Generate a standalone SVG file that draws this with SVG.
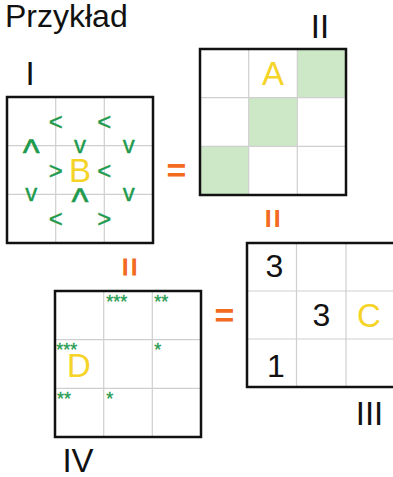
<svg xmlns="http://www.w3.org/2000/svg" width="393" height="477" viewBox="0 0 393 477">
<style>
  text { font-family: "Liberation Sans", Arial, sans-serif; }
  .outer { fill: none; stroke: #111; stroke-width: 2.5; }
  .inner { stroke: #cfcfcf; stroke-width: 1.2; fill: none; }
  .fillg { fill: #cde8c6; }
  .big { font-size: 33px; fill: #f5d327; text-anchor: middle; }
  .num { font-size: 32px; fill: #111; text-anchor: middle; }
  .lab { font-size: 33px; fill: #111; text-anchor: middle; }
  .ar { font-size: 24px; fill: #1e9a4c; text-anchor: middle; stroke: #1e9a4c; stroke-width: 0.4; }
  .car { font-size: 36px; fill: #1e9a4c; text-anchor: middle; stroke: #1e9a4c; stroke-width: 0.6; }
  .st { font-size: 18px; fill: #1e9a4c; stroke: #1e9a4c; stroke-width: 0.3; }
  .eq { font-size: 34px; font-weight: bold; fill: #f26b21; text-anchor: middle; }
</style>
<rect width="393" height="477" fill="#fff"/>

<g id="title">
  <text x="5" y="27" style="font-size:32px" fill="#111">Przykład</text>
</g>

<g id="grid-I">
  <path class="inner" d="M55.7 97V243M104.3 97V243M7 145.7H153M7 194.3H153"/>
  <rect class="outer" x="7" y="97" width="146" height="146"/>
  <text class="big" x="80" y="182">B</text>
  <text class="ar" x="55.7" y="130">&lt;</text>
  <text class="ar" x="104.3" y="130">&lt;</text>
  <text class="car" x="31.3" y="165">^</text>
  <text class="ar" x="80" y="152.5">v</text>
  <text class="ar" x="128.7" y="152.5">v</text>
  <text class="ar" x="55.7" y="178.5">&gt;</text>
  <text class="ar" x="104.3" y="178.5">&lt;</text>
  <text class="ar" x="31.3" y="201">v</text>
  <text class="car" x="80" y="213.5">^</text>
  <text class="ar" x="128.7" y="201">v</text>
  <text class="ar" x="55.7" y="227">&lt;</text>
  <text class="ar" x="104.3" y="227">&gt;</text>
  <text class="lab" x="30" y="85">I</text>
</g>

<g id="grid-II">
  <rect class="fillg" x="297.3" y="49" width="48.7" height="48.7"/>
  <rect class="fillg" x="248.7" y="97.7" width="48.7" height="48.7"/>
  <rect class="fillg" x="200" y="146.3" width="48.7" height="48.7"/>
  <path class="inner" d="M248.7 49V195M297.3 49V195M200 97.7H346M200 146.3H346"/>
  <rect class="outer" x="200" y="49" width="146" height="146"/>
  <text class="big" x="273" y="85">A</text>
  <text class="lab" x="320" y="38">II</text>
</g>

<g id="grid-III">
  <path class="inner" d="M296.5 243V387M346 243V387M247 291H395.5M247 339H395.5"/>
  <rect class="outer" x="247" y="243" width="148.5" height="144"/>
  <text class="num" x="274.5" y="277">3</text>
  <text class="num" x="321.5" y="326">3</text>
  <text class="num" x="276" y="377">1</text>
  <text class="big" x="369" y="327">C</text>
  <text class="lab" x="369.5" y="425">III</text>
</g>

<g id="grid-IV">
  <path class="inner" d="M103.7 291V437M152.3 291V437M55 339.7H201M55 388.3H201"/>
  <rect class="outer" x="55" y="291" width="146" height="146"/>
  <text class="big" x="79" y="377">D</text>
  <text class="st" x="106.3" y="308">***</text>
  <text class="st" x="154.3" y="308">**</text>
  <text class="st" x="56.3" y="356">***</text>
  <text class="st" x="154.3" y="356">*</text>
  <text class="st" x="57" y="405">**</text>
  <text class="st" x="106.3" y="405">*</text>
  <text class="lab" x="78" y="472">IV</text>
</g>

<g id="connectors">
  <text class="eq" x="176.5" y="182">=</text>
  <text class="eq" x="224.5" y="327">=</text>
  <text class="eq" x="272" y="229.5" transform="rotate(90 272 218.5)">=</text>
  <text class="eq" x="128.5" y="278" transform="rotate(90 128.5 267)">=</text>
</g>
</svg>
